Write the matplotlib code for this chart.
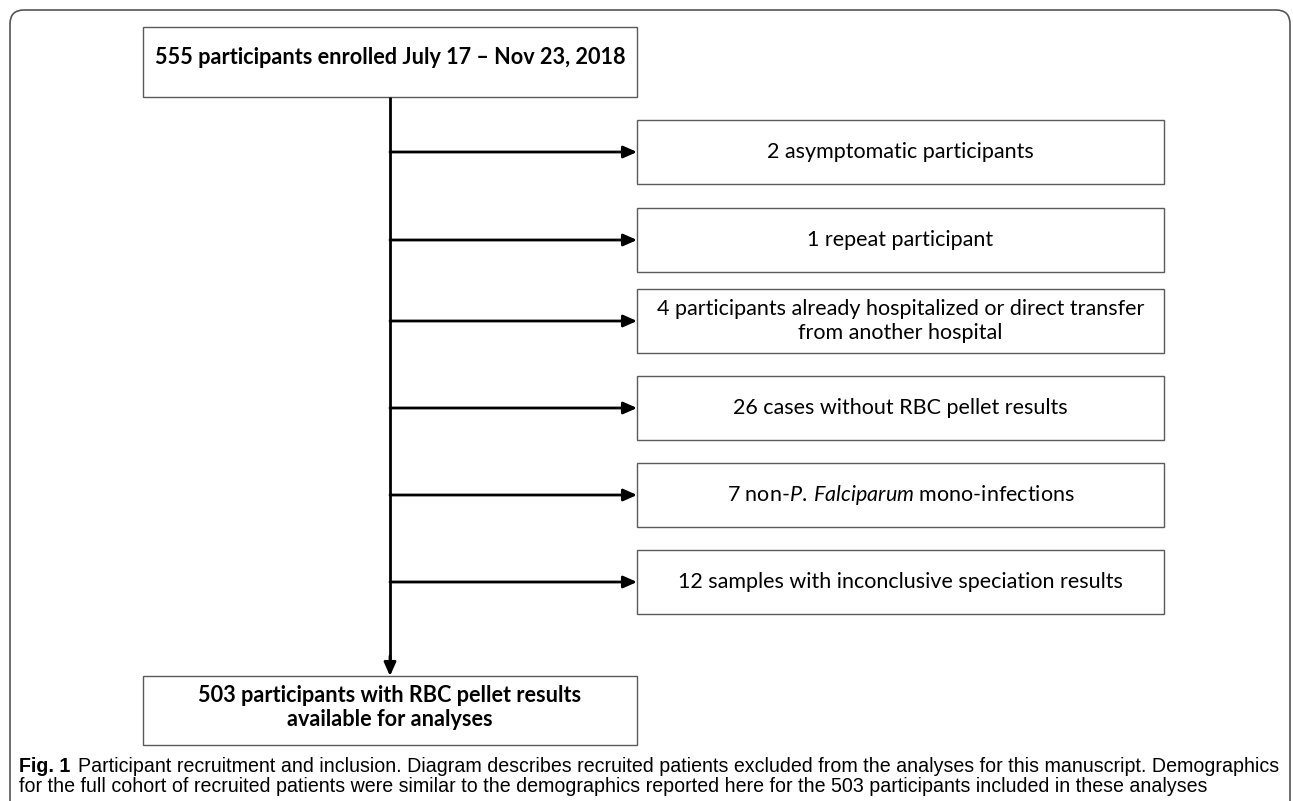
import matplotlib
matplotlib.use("Agg")
import matplotlib.pyplot as plt
from matplotlib.patches import Rectangle, FancyBboxPatch

# flowchart text
top_label = "555 participants enrolled July 17 – Nov 23, 2018"
excluded_labels = [
    "2 asymptomatic participants",
    "1 repeat participant",
    "4 participants already hospitalized or direct transfer\nfrom another hospital",
    "26 cases without RBC pellet results",
    r"7 non-$\mathit{P.\:Falciparum}$ mono-infections",
    "12 samples with inconclusive speciation results",
]
bottom_label = "503 participants with RBC pellet results\navailable for analyses"
caption_bold = "Fig. 1"
caption_lines = [
    "Participant recruitment and inclusion. Diagram describes recruited patients excluded from the analyses for this manuscript. Demographics",
    "for the full cohort of recruited patients were similar to the demographics reported here for the 503 participants included in these analyses",
]

box_font = ["Lato", "DejaVu Sans"]
cap_font = ["Liberation Sans Narrow", "Liberation Sans", "DejaVu Sans"]
plt.rcParams["mathtext.fontset"] = "custom"
plt.rcParams["mathtext.it"] = "Lato:italic"
plt.rcParams["mathtext.rm"] = "Lato"

fig = plt.figure(figsize=(12.93, 8.01), dpi=100)
ax = fig.add_axes([0, 0, 1, 1])
ax.set_xlim(0, 1293)
ax.set_ylim(801, 0)
ax.axis("off")
renderer = fig.canvas.get_renderer()


def fit(txt, width_px):
    w = txt.get_window_extent(renderer).width
    txt.set_fontsize(txt.get_fontsize() * width_px / w)
    return txt.get_fontsize()


arrow = dict(arrowstyle="-|>,head_length=0.45,head_width=0.2", color="black",
             lw=2, shrinkA=0, shrinkB=0, mutation_scale=18)

# outer rounded frame, open at the bottom of the page
frame = FancyBboxPatch((10, 10), 1280, 830, boxstyle="round,pad=0,rounding_size=14",
                       fc="none", ec="#555555", lw=1.2)
ax.add_patch(frame)

# left column: enrolled -> analysed
left_x, left_w = 143, 494
stem_x = left_x + left_w / 2
top_y, top_h = 27, 70
bot_y, bot_h = 676, 69

ax.add_patch(Rectangle((left_x, top_y), left_w, top_h, fc="white", ec="#5a5a5a", lw=1.0))
t = ax.text(stem_x, top_y + top_h / 2 - 5, top_label, ha="center", va="center",
            fontsize=16, fontweight="bold", family=box_font)
bold_size = fit(t, 470)

ax.add_patch(Rectangle((left_x, bot_y), left_w, bot_h, fc="white", ec="#5a5a5a", lw=1.0))
ax.text(stem_x, bot_y + bot_h / 2 - 3, bottom_label, ha="center", va="center",
        fontsize=bold_size, fontweight="bold", family=box_font, linespacing=1.2)

# excluded boxes on the right
right_x, right_w = 637, 527
box_tops = [120, 208, 289, 376, 463, 550]
box_h = 64

ax.plot([stem_x, stem_x], [top_y + top_h, bot_y - 8], color="black", lw=2, solid_capstyle="butt")
ax.annotate("", xy=(stem_x, bot_y), xytext=(stem_x, bot_y - 20), arrowprops=arrow)

size = None
for label, y0 in zip(excluded_labels, box_tops):
    yc = y0 + box_h / 2
    ax.add_patch(Rectangle((right_x, y0), right_w, box_h, fc="white", ec="#5a5a5a", lw=1.0))
    ax.annotate("", xy=(right_x, yc), xytext=(stem_x, yc), arrowprops=arrow)
    t = ax.text(right_x + right_w / 2, yc, label, ha="center", va="center",
                fontsize=16, family=box_font, linespacing=1.2)
    if size is None:
        size = fit(t, 268)
    else:
        t.set_fontsize(size)

# caption below the diagram
cap_y = [766, 787]
fb = ax.text(19, cap_y[0], caption_bold, ha="left", va="center", fontsize=13,
             fontweight="bold", family=cap_font)
c1 = ax.text(80, cap_y[0], caption_lines[0], ha="left", va="center", fontsize=13, family=cap_font)
wb = fb.get_window_extent(renderer).width
w1 = c1.get_window_extent(renderer).width
scale = 1256 / (wb + 8 + w1)
fb.set_fontsize(13 * scale)
c1.set_fontsize(13 * scale)
wb = fb.get_window_extent(renderer).width
c1.set_x(19 + wb + 8)
ax.text(19, cap_y[1], caption_lines[1], ha="left", va="center", fontsize=13 * scale,
        family=cap_font)

fig.savefig("out.png", dpi=100, facecolor="white")
